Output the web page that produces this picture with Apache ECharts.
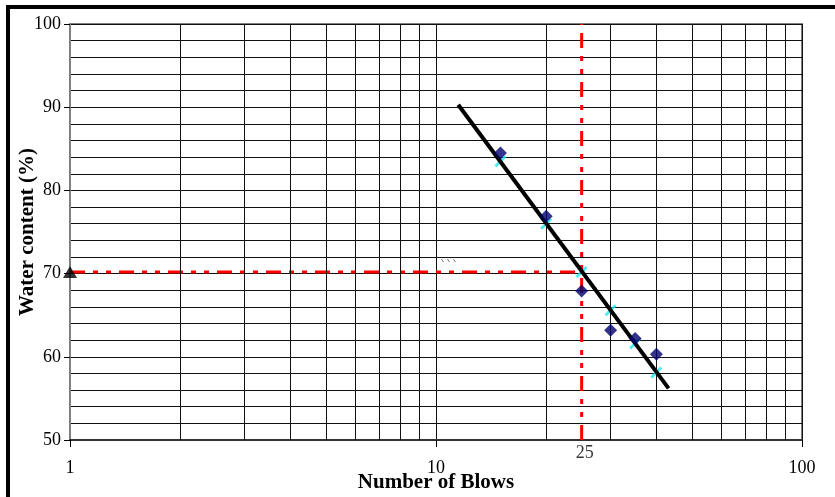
<!DOCTYPE html>
<html>
<head>
<meta charset="utf-8">
<script src="https://cdn.jsdelivr.net/npm/echarts@6/dist/echarts.min.js"></script>
<style>
  html, body { margin: 0; padding: 0; background: #fff; }
  #chart { width: 835px; height: 497px; }
</style>
</head>
<body>
<div id="chart"></div>
<script>
// Liquid limit test (Casagrande cup): water content vs number of blows
const blows = [15, 20, 25, 30, 35, 40];
const waterContent = [84.5, 76.9, 67.9, 63.2, 62.2, 60.3];
const fittedContent = [83.5, 76.0, 70.2, 65.6, 61.6, 58.1];
const trendBlows = [11.5, 43.2];
const trendContent = [90.3, 56.2];
const liquidLimitBlows = 25;
const liquidLimit = 70.2;
const minorBlowLines = [2, 3, 4, 5, 6, 7, 8, 9, 20, 30, 40, 50, 60, 70, 80, 90];
const blowRange = [1, 100];
const contentRange = [50, 100];
const contentStep = 10;

const serif = "'Liberation Serif', 'Times New Roman', serif";
const red = '#ff0000';
const redDash = [15, 8, 5, 8, 5, 8];

const chart = echarts.init(document.getElementById('chart'), null, { renderer: 'canvas' });

const pairs = (xs, ys) => xs.map((x, i) => [x, ys[i]]);

const frame = {
  id: 'frame', type: 'rect', silent: true, z: 100,
  shape: { x: 8, y: 7, width: 900, height: 600 },
  style: { fill: 'none', stroke: '#000', lineWidth: 4 }
};

chart.setOption({
  animation: false,
  backgroundColor: '#fff',
  grid: {
    left: 70, right: 33, top: 24, bottom: 57,
    containLabel: false, outerBoundsMode: 'none',
    show: true, borderColor: '#808080', borderWidth: 2, backgroundColor: 'transparent'
  },
  xAxis: {
    type: 'log', logBase: 10, min: blowRange[0], max: blowRange[1],
    name: 'Number of Blows', nameLocation: 'middle', nameGap: 32, nameMoveOverlap: false,
    nameTextStyle: { fontFamily: serif, fontWeight: 'bold', fontSize: 21, color: '#000' },
    axisLine: { show: true, lineStyle: { color: '#333', width: 2 } },
    axisTick: { show: true, length: 7, inside: false, lineStyle: { color: '#000', width: 1 } },
    axisLabel: { margin: 19, fontFamily: serif, fontSize: 18, color: '#000' },
    splitLine: { show: true, lineStyle: { color: '#111', width: 1 } },
    minorTick: { show: false }, minorSplitLine: { show: false }
  },
  yAxis: {
    type: 'value', min: contentRange[0], max: contentRange[1], interval: contentStep,
    name: 'Water content (%)', nameLocation: 'middle', nameGap: 32, nameRotate: 90,
    nameMoveOverlap: false,
    nameTextStyle: { fontFamily: serif, fontWeight: 'bold', fontSize: 21, color: '#000' },
    axisLine: { show: true, lineStyle: { color: '#808080', width: 2 } },
    axisTick: { show: true, length: 6, lineStyle: { color: '#000', width: 1 } },
    axisLabel: { margin: 9, fontFamily: serif, fontSize: 18, color: '#000' },
    splitLine: { show: true, lineStyle: { color: '#111', width: 1 } },
    minorTick: { show: false, splitNumber: 5 },
    minorSplitLine: { show: true, lineStyle: { color: '#111', width: 1 } }
  },
  graphic: [frame],
  series: [
    {
      // log-cycle grid lines between decades
      type: 'line', data: [], z: 1, silent: true,
      markLine: {
        silent: true, symbol: 'none', animation: false,
        label: { show: false },
        lineStyle: { color: '#111', width: 1, type: 'solid' },
        data: minorBlowLines.map(v => ({ xAxis: v }))
      }
    },
    {
      type: 'line', data: pairs([blowRange[0], liquidLimitBlows], [liquidLimit, liquidLimit]),
      symbol: 'none', z: 2, clip: false,
      lineStyle: { color: red, width: 3, type: redDash }
    },
    {
      type: 'line', data: pairs([liquidLimitBlows, liquidLimitBlows], contentRange),
      symbol: 'none', z: 2, clip: false,
      lineStyle: { color: red, width: 3, type: redDash }
    },
    {
      type: 'scatter', data: pairs(blows, fittedContent), z: 3,
      symbol: 'path://M0,10L10,0L12,2L2,12Z', symbolSize: 12,
      itemStyle: { color: '#1ee6f0' }
    },
    {
      type: 'line', data: pairs(trendBlows, trendContent), symbol: 'none', z: 4,
      lineStyle: { color: '#000', width: 4 }
    },
    {
      type: 'scatter', data: pairs(blows, waterContent), z: 5,
      symbol: 'diamond', symbolSize: 13,
      itemStyle: { color: '#00006e' }
    },
    {
      type: 'scatter', data: [[blowRange[0], liquidLimit]], z: 6, clip: false,
      symbol: 'triangle', symbolSize: [14, 12],
      itemStyle: { color: '#000' }
    },
    {
      type: 'scatter', data: [[liquidLimitBlows, contentRange[0]]], z: 6, clip: false,
      symbolSize: 0, silent: true,
      label: {
        show: true, position: 'bottom', distance: 4, offset: [3, 0],
        formatter: p => String(p.value[0]),
        fontFamily: serif, fontSize: 18, color: '#000'
      }
    }
  ]
});

// three faint pencil strokes left above the 70 % guide
const strokeAt = chart.convertToPixel({ gridIndex: 0 }, [10.35, 71.75]);
chart.setOption({
  graphic: [frame].concat([0, 6, 12].map(dx => ({
    id: 'stroke' + dx, type: 'line', silent: true, z: 50,
    shape: { x1: strokeAt[0] + dx, y1: strokeAt[1], x2: strokeAt[0] + dx + 2, y2: strokeAt[1] + 3 },
    style: { stroke: '#777', lineWidth: 1 }
  })))
});
</script>
</body>
</html>
